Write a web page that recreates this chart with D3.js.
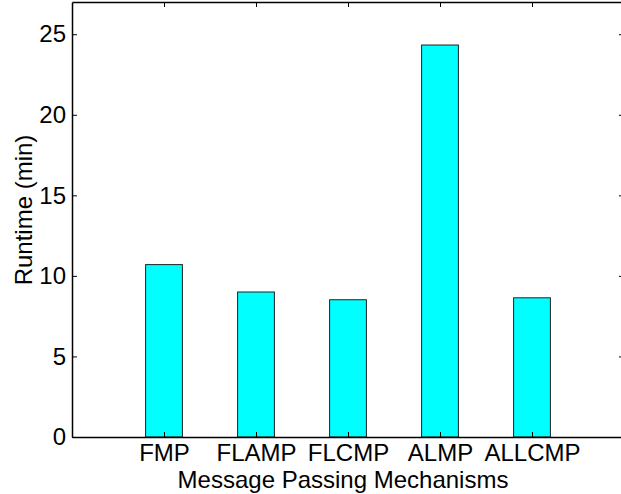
<!DOCTYPE html>
<html>
<head>
<meta charset="utf-8">
<script src="https://cdn.jsdelivr.net/npm/d3@7"></script>
<style>
  body { margin: 0; background: #fff; }
  svg { display: block; font-family: "Liberation Sans", Arial, sans-serif; }
</style>
</head>
<body>
<div id="chart"></div>
<script>
// chart data
const categories = ["FMP", "FLAMP", "FLCMP", "ALMP", "ALLCMP"];
const runtimes = [10.7, 9.0, 8.52, 24.33, 8.64];
const yTicks = [0, 5, 10, 15, 20, 25];

const width = 621;
const height = 494;
const margin = { top: 2, right: -3, bottom: 57, left: 72 };
const innerW = width - margin.left - margin.right;
const innerH = height - margin.top - margin.bottom;

const svg = d3.select("#chart")
  .append("svg")
  .attr("width", width)
  .attr("height", height);

const g = svg.append("g")
  .attr("transform", `translate(${margin.left},${margin.top})`);

// x positions 1..5 on a 0..6 linear scale, like the original
const x = d3.scaleLinear().domain([0, 6]).range([0, innerW]);
const y = d3.scaleLinear().domain([0, 27]).range([innerH, 0]);
const unit = x(1) - x(0);
const barW = unit * 0.4;

// bars
g.append("g")
  .selectAll("rect")
  .data(runtimes)
  .enter()
  .append("rect")
  .attr("x", (d, i) => x(i + 1) - barW / 2)
  .attr("y", d => y(d))
  .attr("width", barW)
  .attr("height", d => y(0) - y(d))
  .attr("fill", "#00ffff")
  .attr("stroke", "#222")
  .attr("stroke-width", 1);

const fontSize = "24px";
const xTickVals = categories.map((c, i) => i + 1);

// bottom axis
const xAxis = g.append("g")
  .attr("transform", `translate(0,${innerH})`)
  .call(d3.axisBottom(x).tickValues(xTickVals)
    .tickFormat((d, i) => categories[i]).tickSizeInner(-5).tickSizeOuter(0).tickPadding(7));

// top axis
const xTop = g.append("g")
  .call(d3.axisTop(x).tickValues(xTickVals).tickFormat("").tickSizeInner(-5).tickSizeOuter(0));

// left axis
const yAxis = g.append("g")
  .call(d3.axisLeft(y).tickValues(yTicks).tickSizeInner(-5).tickSizeOuter(0).tickPadding(6));

// right axis
const yRight = g.append("g")
  .attr("transform", `translate(${innerW},0)`)
  .call(d3.axisRight(y).tickValues(yTicks).tickFormat("").tickSizeInner(-5).tickSizeOuter(0));

[xAxis, xTop, yAxis, yRight].forEach(a => {
  a.select(".domain").attr("stroke", "#000").attr("stroke-width", 1.5);
  a.selectAll(".tick line").attr("stroke", "#000");
  a.selectAll("text")
    .attr("font-family", "Liberation Sans, Arial, sans-serif")
    .attr("font-size", fontSize)
    .attr("fill", "#000");
});

// axis titles
svg.append("text")
  .attr("x", 343)
  .attr("y", 488)
  .attr("text-anchor", "middle")
  .attr("font-size", fontSize)
  .text("Message Passing Mechanisms");

svg.append("text")
  .attr("transform", "translate(32,210) rotate(-90)")
  .attr("text-anchor", "middle")
  .attr("font-size", fontSize)
  .text("Runtime (min)");
</script>
</body>
</html>
